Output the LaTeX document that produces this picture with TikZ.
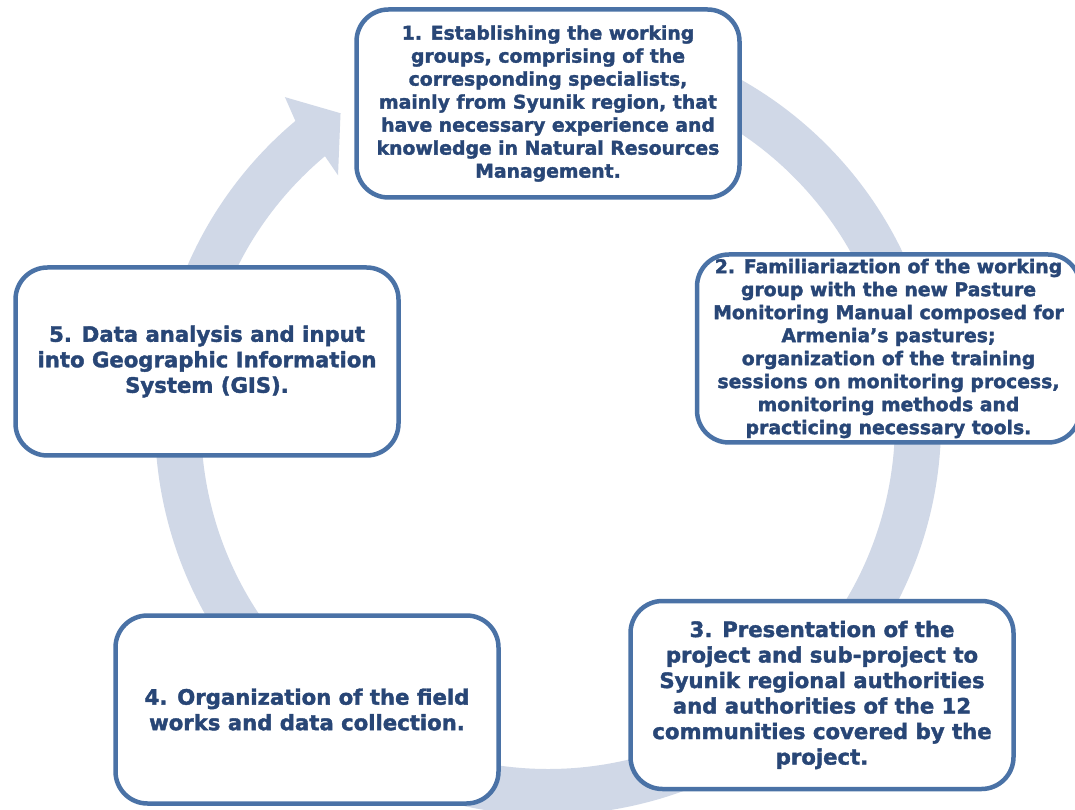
\documentclass[tikz,border=0pt]{standalone}
\usepackage{fontspec}
\newfontfamily\boxfont{DejaVu Sans}[BoldFeatures={FakeBold=1.8}]
\definecolor{ringfill}{RGB}{208,216,231}
\definecolor{boxline}{RGB}{74,114,166}
\definecolor{boxtext}{RGB}{40,70,118}
\tikzset{
  stepbox/.style={draw=boxline, line width=4.5pt, fill=white,
    rounded corners=32pt, minimum width=383pt, minimum height=188pt,
    inner sep=0pt, align=center, text=boxtext,
    font=\boxfont\bfseries\fontsize{18.8}{23}\selectfont},
  bigtext/.style={font=\boxfont\bfseries\fontsize{21.2}{25.5}\selectfont},
}
\begin{document}
\begin{tikzpicture}[x=1pt,y=1pt]
\useasboundingbox (0,0) rectangle (1075,809);
\clip (0,0) rectangle (1075,809);
\fill[white] (0,0) rectangle (1075,809);

% circular arrow running clockwise behind the steps
\begin{scope}[shift={(548,387)}]
  \fill[ringfill] (100:393) arc[start angle=100, end angle=-230, radius=393]
    -- (-231:418) -- (-236.1:372) -- (-229.6:324) -- (-230:347)
    arc[start angle=-230, end angle=100, radius=347] -- cycle;
\end{scope}

\node[stepbox] (s1) at (548,705.5) {1. Establishing the working\\groups, comprising of the\\corresponding specialists,\\mainly from Syunik region, that\\have necessary experience and\\knowledge in Natural Resources\\Management.};
\node[stepbox] (s2) at (888.5,460.5) {2. Familiariaztion of the working\\group with the new Pasture\\Monitoring Manual composed for\\Armenia’s pastures;\\organization of the training\\sessions on monitoring process,\\monitoring methods and\\practicing necessary tools.};
\node[stepbox, bigtext] (s3) at (822,114) {3. Presentation of the\\project and sub-project to\\Syunik regional authorities\\and authorities of the 12\\communities covered by the\\project.};
\node[stepbox, bigtext] (s4) at (307,99.5) {4. Organization of the field\\works and data collection.};
\node[stepbox, bigtext] (s5) at (207,447.5) {5. Data analysis and input\\into Geographic Information\\System (GIS).};
\end{tikzpicture}
\end{document}
